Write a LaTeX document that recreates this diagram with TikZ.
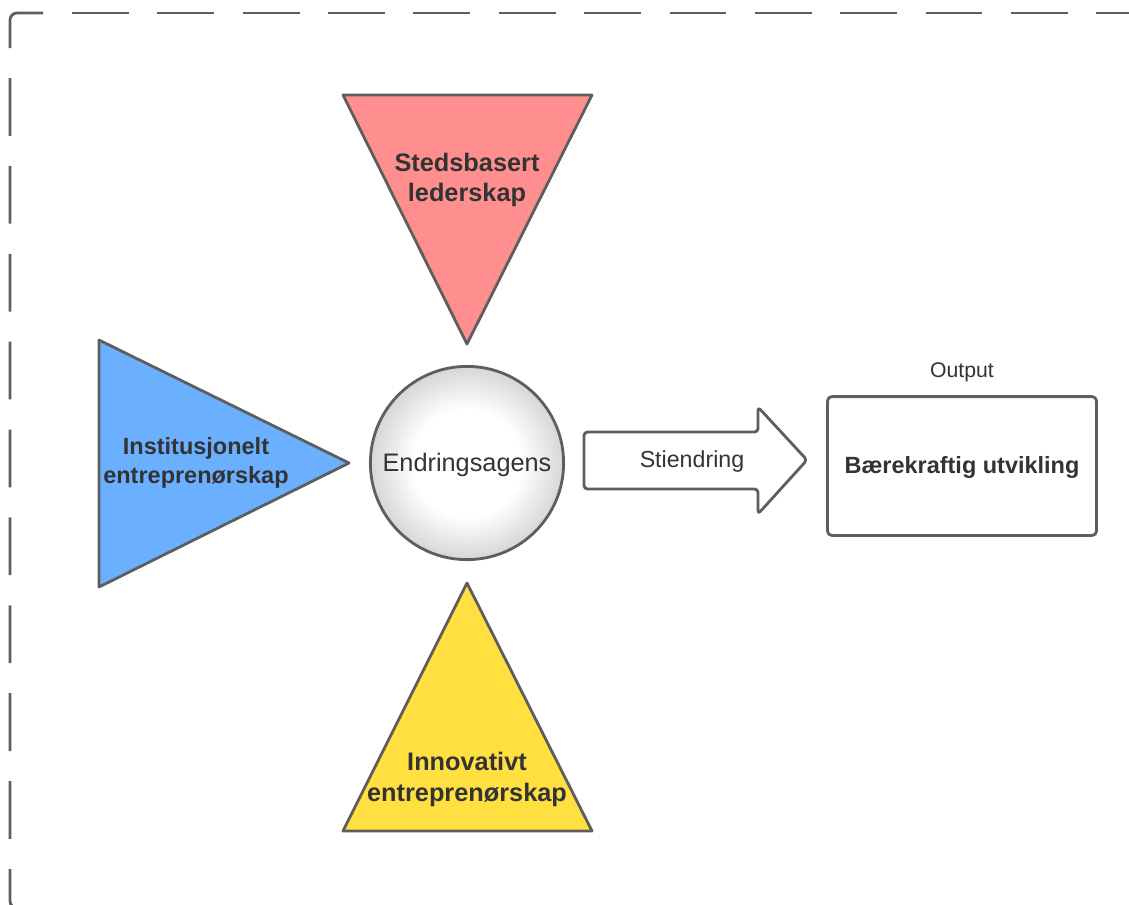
\documentclass[tikz,border=0pt]{standalone}
\usepackage{fontspec}
\setmainfont{Liberation Sans}
\usetikzlibrary{positioning}

\definecolor{linegray}{HTML}{5E5E5E}
\definecolor{textgray}{HTML}{333333}
\definecolor{redfill}{HTML}{FF8F8F}
\definecolor{bluefill}{HTML}{6BB0FF}
\definecolor{yellowfill}{HTML}{FFE040}

\pgfdeclareradialshading{agentball}{\pgfpoint{0bp}{0bp}}{color(0bp)=(white); color(14bp)=(white); color(25bp)=(gray!32); color(50bp)=(gray!32)}

\tikzset{
  outline/.style={draw=linegray, line width=2pt, line join=round},
  border/.style={draw=linegray, line width=2pt, rounded corners=5pt},
  bigbold/.style={text=textgray, align=center, font=\fontsize{18}{21.5}\selectfont\bfseries},
  midbold/.style={text=textgray, align=center, font=\fontsize{16.7}{20.5}\selectfont\bfseries},
  plaintext/.style={text=textgray, font=\fontsize{16.5}{20}\selectfont},
}

\begin{document}
\begin{tikzpicture}[x=0.025cm, y=-0.025cm]
    \clip (0,0) rectangle (1129,904);

    % Draw the dashed frame (cut off at right and bottom)
    \draw[border] (10,48) -- (10,13) -- (43,13);
    \draw[border, dash pattern=on 40.4pt off 20.3pt] (72,13) -- (1180,13);
    \draw[border, dash pattern=on 41.1pt off 21.4pt] (10,78) -- (10,908) -- (120,908);

    % Draw the three triangles round the agent
    \draw[outline, fill=redfill] (343,95) -- (592,95) -- (467,344) -- cycle;
    \node[bigbold] (stedsbasert) at (467,180) {Stedsbasert\\lederskap};

    \draw[outline, fill=bluefill] (99,340) -- (349,463) -- (99,587) -- cycle;
    \node[midbold] (institusjonelt) at (196,463) {Institusjonelt\\entreprenørskap};

    \draw[outline, fill=yellowfill] (467,583) -- (592,831) -- (343,831) -- cycle;
    \node[bigbold, font=\fontsize{18}{22}\selectfont\bfseries] (innovativt) at (467,779) {Innovativt\\entreprenørskap};

    % Draw the agent in the middle
    \node[circle, outline, shading=agentball, minimum size=4.83cm, inner sep=0pt,
          text=textgray, font=\fontsize{18}{21.5}\selectfont] (agent) at (467,463)
          {\raisebox{-1.5pt}[\height][\depth]{Endringsagens}};

    % Draw the block arrow and the output box
    \draw[outline, fill=white, rounded corners=2.5pt]
        (584,432) -- (758,432) -- (758,407) -- (807,460) -- (758,514) -- (758,489) -- (584,489) -- cycle;
    \node[plaintext] (stiendring) at (692,461) {Stiendring};

    \node[outline, rounded corners=3pt, minimum width=6.72cm, minimum height=3.47cm,
          midbold] (utvikling) at (962,466) {\raisebox{-1.2pt}[\height][\depth]{Bærekraftig utvikling}};
    \node[plaintext, font=\fontsize{15.1}{18}\selectfont] (output) at (962,372) {Output};
\end{tikzpicture}
\end{document}
